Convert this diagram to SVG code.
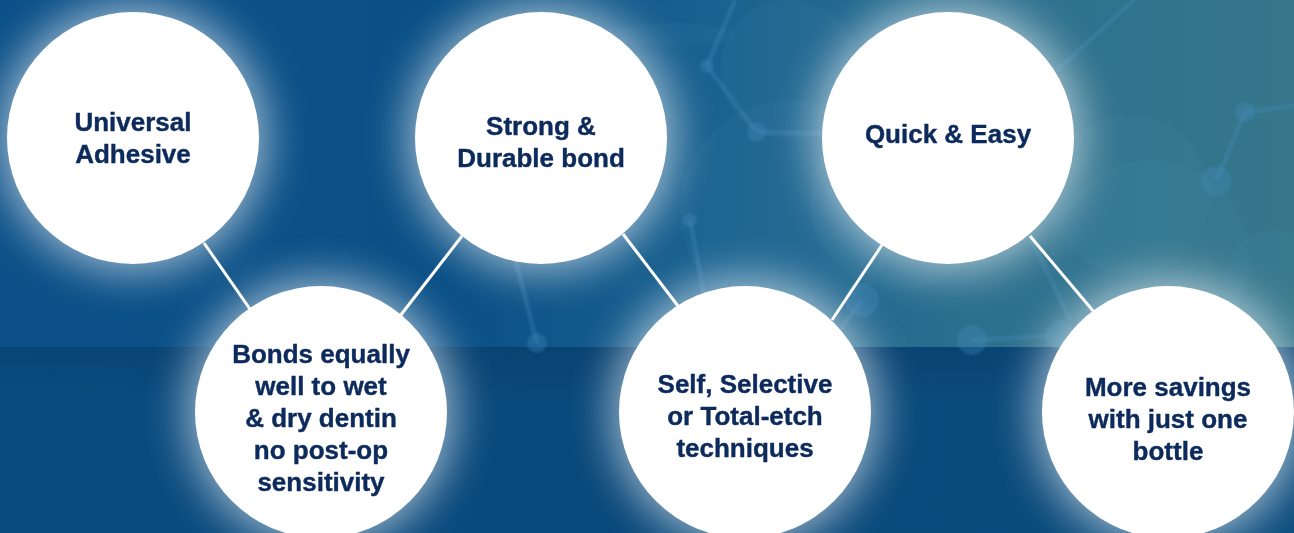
<svg xmlns="http://www.w3.org/2000/svg" width="1294" height="533" viewBox="0 0 1294 533">
<defs>
<linearGradient id="bgTop" x1="0" y1="0" x2="1" y2="0">
<stop offset="0" stop-color="#0b5088"/>
<stop offset="0.35" stop-color="#0a5086"/>
<stop offset="0.55" stop-color="#196190"/>
<stop offset="0.75" stop-color="#2c708f"/>
<stop offset="1" stop-color="#36778b"/>
</linearGradient>
<linearGradient id="bgBot" x1="0" y1="0" x2="1" y2="0">
<stop offset="0" stop-color="#0a4c80"/>
<stop offset="0.5" stop-color="#09487a"/>
<stop offset="1" stop-color="#0c4d7e"/>
</linearGradient>
<linearGradient id="botShade" x1="0" y1="0" x2="0" y2="1">
<stop offset="0" stop-color="#04355f" stop-opacity="0.3"/>
<stop offset="0.3" stop-color="#04355f" stop-opacity="0"/>
</linearGradient>
<filter id="glow" x="-50%" y="-50%" width="200%" height="200%">
<feGaussianBlur stdDeviation="22"/>
</filter>
<filter id="soft" x="-50%" y="-50%" width="200%" height="200%">
<feGaussianBlur stdDeviation="1.2"/>
</filter>
<style>
.conn{stroke:#ffffff;stroke-width:3;fill:none}
.disc{fill:#ffffff}
.halo{fill:#ffffff;opacity:0.6;filter:url(#glow)}
.lbl{font-family:"Liberation Sans",Arial,Helvetica,sans-serif;font-weight:bold;font-size:26px;fill:#0c2a5b;stroke:#0c2a5b;stroke-width:0.4;text-anchor:middle}
.mol{stroke:#4a90c0;stroke-width:5;opacity:0.28;fill:none}
.atom{fill:#4a90c0;opacity:0.3}
.bokeh{fill:#6aa6c8;opacity:0.06}
</style>
</defs>

<g id="background">
<rect x="0" y="0" width="1294" height="347" fill="url(#bgTop)"/>
<rect x="0" y="347" width="1294" height="186" fill="url(#bgBot)"/>
<rect x="0" y="347" width="1294" height="186" fill="url(#botShade)"/>
<circle class="bokeh" cx="790" cy="70" r="70"/>
<circle class="bokeh" cx="790" cy="210" r="110"/>
<circle class="bokeh" cx="900" cy="200" r="90"/>
<circle class="bokeh" cx="1130" cy="195" r="80"/>
<circle class="bokeh" cx="1150" cy="260" r="100"/>
<circle class="bokeh" cx="1275" cy="280" r="50"/>
<ellipse class="bokeh" cx="675" cy="35" rx="60" ry="12"/>
<g filter="url(#soft)">
<line class="mol" x1="735" y1="0" x2="707" y2="66"/>
<line class="mol" x1="707" y1="66" x2="757" y2="132"/>
<line class="mol" x1="757" y1="132" x2="840" y2="134"/>
<circle class="atom" cx="707" cy="66" r="7"/>
<circle class="atom" cx="757" cy="132" r="10"/>
<line class="mol" x1="690" y1="220" x2="705" y2="300"/>
<circle class="atom" cx="690" cy="220" r="7"/>
<line class="mol" x1="515" y1="258" x2="537" y2="343"/>
<circle class="atom" cx="537" cy="343" r="10"/>
<line class="mol" x1="1134" y1="0" x2="1057" y2="70"/>
<line class="mol" x1="1245" y1="112" x2="1294" y2="106"/>
<line class="mol" x1="1245" y1="112" x2="1216" y2="181"/>
<circle class="atom" cx="1245" cy="112" r="10"/>
<circle class="atom" cx="1216" cy="181" r="15"/>
<line class="mol" x1="862" y1="300" x2="840" y2="330"/>
<circle class="atom" cx="862" cy="300" r="17"/>
<circle class="atom" cx="972" cy="340" r="15"/>
<line class="mol" x1="972" y1="340" x2="1050" y2="336"/>
<line class="mol" x1="1030" y1="236" x2="1070" y2="320"/>
<circle class="atom" cx="1060" cy="335" r="15"/>
</g>
</g>

<g id="halos">
<circle class="halo" cx="133" cy="138" r="134"/>
<circle class="halo" cx="541" cy="138" r="134"/>
<circle class="halo" cx="948" cy="138" r="134"/>
<circle class="halo" cx="321" cy="412" r="134"/>
<circle class="halo" cx="745" cy="412" r="134"/>
<circle class="halo" cx="1168" cy="412" r="134"/>
</g>

<g id="connectors">
<line class="conn" x1="204" y1="243" x2="252" y2="312"/>
<line class="conn" x1="462" y1="236" x2="400" y2="316"/>
<line class="conn" x1="623" y1="234" x2="678" y2="306"/>
<line class="conn" x1="882" y1="245" x2="832" y2="320"/>
<line class="conn" x1="1030" y1="236" x2="1094" y2="312"/>
</g>

<g id="node-universal">
<circle class="disc" cx="133" cy="138" r="126"/>
<text class="lbl" x="133" y="131">Universal</text>
<text class="lbl" x="133" y="163">Adhesive</text>
</g>

<g id="node-strong">
<circle class="disc" cx="541" cy="138" r="126"/>
<text class="lbl" x="541" y="135">Strong &amp;</text>
<text class="lbl" x="541" y="167">Durable bond</text>
</g>

<g id="node-quick">
<circle class="disc" cx="948" cy="138" r="126"/>
<text class="lbl" x="948" y="143">Quick &amp; Easy</text>
</g>

<g id="node-bonds">
<circle class="disc" cx="321" cy="412" r="126"/>
<text class="lbl" x="321" y="363">Bonds equally</text>
<text class="lbl" x="321" y="395">well to wet</text>
<text class="lbl" x="321" y="427">&amp; dry dentin</text>
<text class="lbl" x="321" y="459">no post-op</text>
<text class="lbl" x="321" y="491">sensitivity</text>
</g>

<g id="node-self">
<circle class="disc" cx="745" cy="412" r="126"/>
<text class="lbl" x="745" y="393">Self, Selective</text>
<text class="lbl" x="745" y="425">or Total-etch</text>
<text class="lbl" x="745" y="457">techniques</text>
</g>

<g id="node-savings">
<circle class="disc" cx="1168" cy="412" r="126"/>
<text class="lbl" x="1168" y="396">More savings</text>
<text class="lbl" x="1168" y="428">with just one</text>
<text class="lbl" x="1168" y="460">bottle</text>
</g>
</svg>
